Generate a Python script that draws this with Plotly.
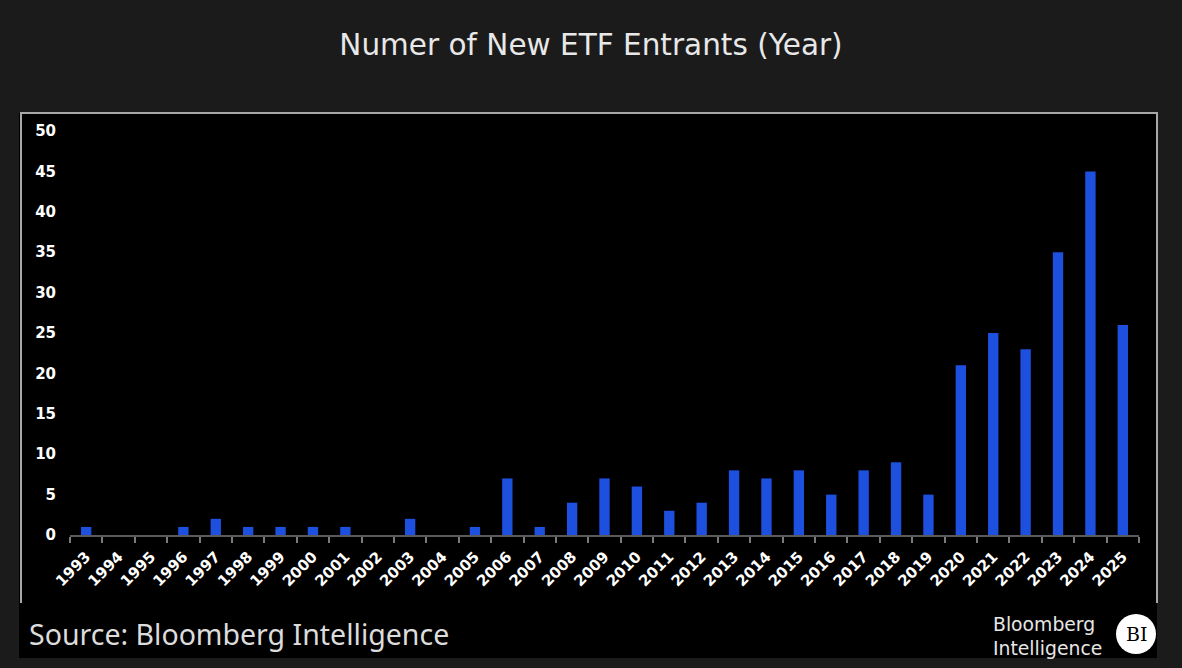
import plotly.graph_objects as go

# data
years = [str(y) for y in range(1993, 2026)]
entrants = [1, 0, 0, 1, 2, 1, 1, 1, 1, 0, 2, 0, 1, 7, 1, 4, 7, 6, 3, 4,
            8, 7, 8, 5, 8, 9, 5, 21, 25, 23, 35, 45, 26]
y_ticks = list(range(0, 51, 5))

W, H = 1182, 668
L, R, T, B = 70, 43, 131, 133
PW, PH = W - L - R, H - T - B


def px(x):
    return (x - L) / PW


def py(y):
    return (H - B - y) / PH


fig = go.Figure()

fig.add_trace(go.Bar(
    x=years,
    y=entrants,
    marker=dict(color="#1e50e0", line=dict(width=0)),
    hoverinfo="x+y",
))

# black panel + light border
shapes = [
    dict(type="rect", xref="paper", yref="paper", layer="below",
         x0=px(19), x1=px(1157), y0=py(113), y1=py(658),
         fillcolor="#000000", line=dict(width=0)),
    dict(type="line", xref="paper", yref="paper",
         x0=px(21), x1=px(21), y0=py(113), y1=py(603),
         line=dict(color="#a8a8a8", width=2)),
    dict(type="line", xref="paper", yref="paper",
         x0=px(20), x1=px(1158), y0=py(113), y1=py(113),
         line=dict(color="#a8a8a8", width=2)),
    dict(type="line", xref="paper", yref="paper",
         x0=px(1157), x1=px(1157), y0=py(113), y1=py(603),
         line=dict(color="#a8a8a8", width=2)),
    # BI logo circle
    dict(type="circle", xref="paper", yref="paper",
         x0=px(1116), x1=px(1156), y0=py(614), y1=py(654),
         fillcolor="#ffffff", line=dict(width=0)),
]

annotations = [
    dict(text="Source: Bloomberg Intelligence", xref="paper", yref="paper",
         x=px(27), y=py(634), xanchor="left", yanchor="middle", showarrow=False,
         font=dict(family="Noto Sans", size=28.5, color="#dcdcdc")),
    dict(text="Bloomberg<br>Intelligence", xref="paper", yref="paper",
         x=px(991), y=py(636), xanchor="left", yanchor="middle", showarrow=False,
         align="left",
         font=dict(family="DejaVu Sans", size=18.8, color="#e6e6e6")),
    dict(text="BI", xref="paper", yref="paper",
         x=px(1136), y=py(634), xanchor="center", yanchor="middle", showarrow=False,
         font=dict(family="DejaVu Serif", size=19, color="#000000")),
]

fig.update_layout(
    width=W, height=H,
    margin=dict(l=L, r=R, t=T, b=B),
    paper_bgcolor="#1b1b1b",
    plot_bgcolor="rgba(0,0,0,0)",
    showlegend=False,
    bargap=0.68,
    title=dict(text="Numer of New ETF Entrants (Year)", x=0.5, xref="container",
               xanchor="center", y=1 - 45 / H, yanchor="middle",
               font=dict(family="DejaVu Sans", size=29.5, color="#e8e8e8")),
    shapes=shapes,
    annotations=annotations,
    xaxis=dict(
        type="category",
        tickangle=-45,
        tickson="boundaries",
        ticks="outside", ticklen=6, tickwidth=2, tickcolor="#7a7a7a",
        showline=True, linecolor="#5a5a5a", linewidth=2,
        showgrid=False, ticklabelstandoff=5,
        tickfont=dict(family="DejaVu Sans", size=15, color="#ffffff", weight="bold"),
    ),
    yaxis=dict(
        range=[0, 50],
        tickvals=y_ticks,
        showgrid=False, zeroline=False, showline=False,
        ticks="", ticklabelstandoff=13,
        tickfont=dict(family="DejaVu Sans", size=15, color="#ffffff", weight="bold"),
    ),
)

fig.write_html("out.html", config={"displayModeBar": False},
               post_script="document.body.style.margin='0';")
